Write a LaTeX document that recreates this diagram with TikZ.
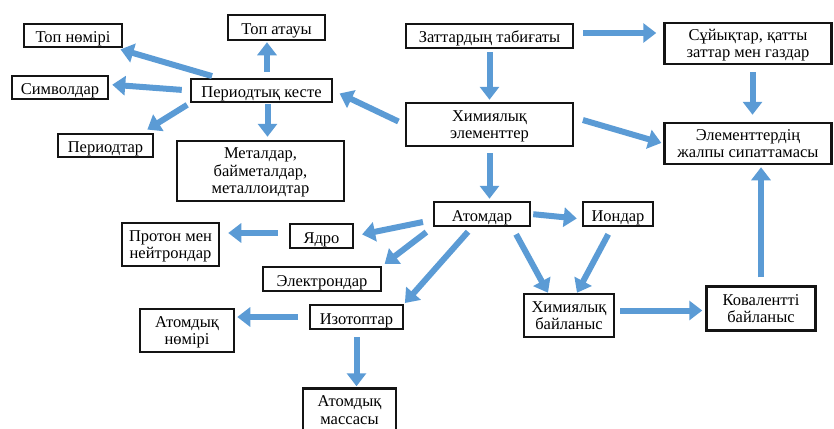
\documentclass[tikz,border=0pt]{standalone}
\usepackage{fontspec}
\setmainfont{Liberation Serif}
\usepackage{xcolor}
\usetikzlibrary{arrows.meta}
\definecolor{arrowblue}{RGB}{91, 155, 213}
\definecolor{boxblack}{RGB}{20, 20, 20}

\begin{document}
\begin{tikzpicture}[x=1pt, y=-1pt,
    kbox/.style={draw=boxblack, line width=2.5pt, fill=white, inner sep=0pt, align=center,
        font=\fontsize{16.5}{17.5}\selectfont, text depth=-2pt},
    onerow/.style={text height=14pt, text depth=0pt},
    link/.style={arrowblue, line width=6pt, -{Triangle[width=19pt,length=13pt]}}]
\useasboundingbox (0,0) rectangle (834,428);
% top row
\node[kbox, onerow, minimum width=98pt, minimum height=23pt] (topnomer) at (73,35.5) {Топ нөмірі};
\node[kbox, onerow, minimum width=97pt, minimum height=25pt] (topatau) at (276.5,27.5) {Топ атауы};
\node[kbox, onerow, minimum width=96pt, minimum height=23pt] (simvol) at (60,87.5) {Символдар};
\node[kbox, onerow, minimum width=141pt, minimum height=23pt] (keste) at (261.5,90.5) {Периодтық кесте};
\node[kbox, onerow, minimum width=95pt, minimum height=23pt] (periodtar) at (105.5,145.5) {Периодтар};
\node[kbox, minimum width=167pt, minimum height=60pt] (metal) at (260.5,171) {Металдар,\\байметалдар,\\металлоидтар};
\node[kbox, onerow, minimum width=167pt, minimum height=24pt] (tabigat) at (489.5,36) {Заттардың табиғаты};
\node[kbox, minimum width=167pt, minimum height=41pt] (suyik) at (748,43.5) {Сұйықтар, қатты\\заттар мен газдар};
\node[kbox, minimum width=167pt, minimum height=43pt] (ximel) at (489.5,124.5) {Химиялық\\элементтер};
\node[kbox, minimum width=167pt, minimum height=41pt] (zhalpy) at (748,143.5) {Элементтердің\\жалпы сипаттамасы};
% atom part
\node[kbox, onerow, minimum width=96pt, minimum height=24pt] (atom) at (482,214) {Атомдар};
\node[kbox, onerow, minimum width=70pt, minimum height=24pt] (ion) at (618,214) {Иондар};
\node[kbox, minimum width=90pt, minimum height=43pt] (xbail) at (569,315.5) {Химиялық\\байланыс};
\node[kbox, minimum width=109pt, minimum height=44pt] (koval) at (761,308.5) {Ковалентті\\байланыс};
\node[kbox, onerow, minimum width=63pt, minimum height=24pt] (yadro) at (321.5,236) {Ядро};
\node[kbox, minimum width=97pt, minimum height=43pt] (proton) at (170.5,244.5) {Протон мен\\нейтрондар};
\node[kbox, onerow, minimum width=118pt, minimum height=24pt] (elektron) at (322,279) {Электрондар};
\node[kbox, onerow, minimum width=93pt, minimum height=24pt] (izotop) at (356.5,317) {Изотоптар};
\node[kbox, minimum width=94pt, minimum height=43pt] (atnomer) at (187,330.5) {Атомдық\\нөмірі};
\node[kbox, minimum width=93pt, minimum height=43pt] (atmassa) at (349.5,410) {Атомдық\\массасы};

% arrows round the periodic table
\draw[link, shorten <=6pt, shorten >=4pt] (keste) -- (topnomer);
\draw[link, shorten <=6pt, shorten >=1pt] ([xshift=5.5pt]keste.north) -- ([xshift=-9.5pt]topatau.south);
\draw[link, shorten <=8pt, shorten >=3pt] (keste.west) -- ([yshift=3pt]simvol.east);
\draw[link, shorten <=3pt, shorten >=6pt] (keste.south west) -- ([xshift=-12pt]periodtar.north east);
\draw[link, shorten <=1pt, shorten >=3pt] ([xshift=6pt]keste.south) -- ([xshift=7pt]metal.north);
\draw[link, shorten <=7pt, shorten >=7pt] (ximel.west) -- (keste.east);
% arrows of the right part
\draw[link, shorten <=9pt, shorten >=7pt] ([yshift=3pt]tabigat.east) -- ([yshift=3pt]tabigat.east -| suyik.west);
\draw[link, shorten <=3pt, shorten >=2pt] (tabigat.south) -- (ximel.north);
\draw[link, shorten <=7pt, shorten >=7pt] ([xshift=4.5pt]suyik.south) -- ([xshift=4.5pt]zhalpy.north);
\draw[link, shorten <=9pt, shorten >=2pt] ([yshift=7pt]ximel.east) -- (zhalpy.west);
\draw[link, shorten <=6pt, shorten >=2pt] (ximel.south) -- (ximel.south |- atom.north);
\draw[link, shorten <=8pt, shorten >=2pt] (koval.north) -- (koval.north |- zhalpy.south);
% arrows from the atoms
\draw[link, shorten <=2pt, shorten >=5pt] (atom.east) -- ([yshift=-5pt]ion.west);
\draw[link, shorten <=8pt] ([xshift=-19pt]atom.south east) -- ([xshift=-21pt]xbail.north);
\draw[link, shorten <=8pt] ([xshift=-6pt]ion.south) -- ([xshift=8pt]xbail.north);
\draw[link, shorten <=5pt, shorten >=3pt] ([yshift=5pt]xbail.east) -- ([yshift=5pt]xbail.east -| koval.west);
\draw[link, shorten <=10pt, shorten >=8pt] ([yshift=-6pt]atom.west) -- (yadro.east);
\draw[link, shorten <=8pt, shorten >=3pt] (atom.south west) -- (elektron.north east);
\draw[link, shorten <=6pt, shorten >=1pt] ([xshift=-10pt]atom.south) -- (izotop.north east);
\draw[link, shorten <=11pt, shorten >=8pt] ([yshift=3pt]yadro.west) -- ([yshift=3pt]yadro.west -| proton.east);
\draw[link, shorten <=11pt, shorten >=2pt] (izotop.west) -- (izotop.west -| atnomer.east);
\draw[link, shorten <=7pt, shorten >=1pt] (izotop.south) -- (izotop.south |- atmassa.north);
\end{tikzpicture}
\end{document}
